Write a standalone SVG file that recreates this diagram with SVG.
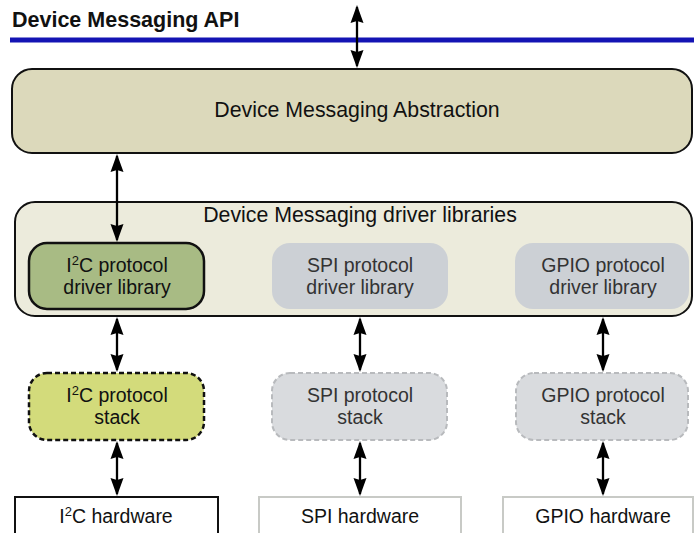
<svg xmlns="http://www.w3.org/2000/svg" width="694" height="533" viewBox="0 0 694 533">
  <defs>
    <marker id="ah" viewBox="0 0 18 14" refX="16" refY="7" markerWidth="18" markerHeight="14" orient="auto-start-reverse" markerUnits="userSpaceOnUse">
      <path d="M0,0.5 L18,7 L0,13.5 L2,7 z" fill="#000"/>
    </marker>
    <style>
      text { font-family: "Liberation Sans", Arial, sans-serif; fill: #111; }
      .title { font-size: 21.5px; font-weight: bold; }
      .lbl { font-size: 19.5px; text-anchor: middle; }
      .big { font-size: 21.3px; text-anchor: middle; }
      .grey { fill: #333; }
      .conn { stroke: #000; stroke-width: 2.3; fill: none; marker-start: url(#ah); marker-end: url(#ah); }
      .active-lib { fill: #a8bb84; stroke: #111; stroke-width: 2.5; }
      .idle-lib { fill: #ccd0d5; stroke: none; }
      .active-stack { fill: #d3db7b; stroke: #111; stroke-width: 2.5; stroke-dasharray: 5 3; }
      .idle-stack { fill: #d9dbde; stroke: #b8babd; stroke-width: 2; stroke-dasharray: 5 3; }
      .active-hw { fill: #fff; stroke: #111; stroke-width: 2; }
      .idle-hw { fill: #fff; stroke: #c8cac6; stroke-width: 2; }
    </style>
  </defs>

  <!-- API boundary -->
  <g id="api">
    <text class="title" x="12" y="27">Device Messaging API</text>
    <line x1="10" y1="40" x2="694" y2="40" stroke="#1414b4" stroke-width="5"/>
  </g>

  <g id="abstraction">
    <rect x="12" y="69" width="680" height="84" rx="20" fill="#dcd9bb" stroke="#111" stroke-width="2"/>
    <text class="big" x="357" y="117">Device Messaging Abstraction</text>
  </g>

  <g id="driver-libraries">
    <rect x="15" y="202" width="677" height="114" rx="20" fill="#ecebdc" stroke="#111" stroke-width="2"/>
    <text class="big" x="360" y="222">Device Messaging driver libraries</text>
  </g>

  <g id="i2c-lib">
    <rect class="active-lib" x="29" y="243" width="175" height="66" rx="18"/>
    <text class="lbl" x="117" y="272">I<tspan dy="-7" font-size="13">2</tspan><tspan dy="7">C protocol</tspan></text>
    <text class="lbl" x="117" y="294">driver library</text>
  </g>
  <g id="spi-lib">
    <rect class="idle-lib" x="272" y="243" width="176" height="66" rx="18"/>
    <text class="lbl grey" x="360" y="272">SPI protocol</text>
    <text class="lbl grey" x="360" y="294">driver library</text>
  </g>
  <g id="gpio-lib">
    <rect class="idle-lib" x="515" y="243" width="174" height="66" rx="18"/>
    <text class="lbl grey" x="603" y="272">GPIO protocol</text>
    <text class="lbl grey" x="603" y="294">driver library</text>
  </g>

  <g id="i2c-stack">
    <rect class="active-stack" x="29" y="373" width="175" height="67" rx="18"/>
    <text class="lbl" x="117" y="402">I<tspan dy="-7" font-size="13">2</tspan><tspan dy="7">C protocol</tspan></text>
    <text class="lbl" x="117" y="424">stack</text>
  </g>
  <g id="spi-stack">
    <rect class="idle-stack" x="272" y="373" width="175" height="67" rx="18"/>
    <text class="lbl grey" x="360" y="402">SPI protocol</text>
    <text class="lbl grey" x="360" y="424">stack</text>
  </g>
  <g id="gpio-stack">
    <rect class="idle-stack" x="516" y="373" width="172" height="67" rx="18"/>
    <text class="lbl grey" x="603" y="402">GPIO protocol</text>
    <text class="lbl grey" x="603" y="424">stack</text>
  </g>

  <g id="i2c-hw">
    <rect class="active-hw" x="15" y="497" width="203" height="40"/>
    <text class="lbl" x="116" y="523">I<tspan dy="-7" font-size="13">2</tspan><tspan dy="7">C hardware</tspan></text>
  </g>
  <g id="spi-hw">
    <rect class="idle-hw" x="259" y="497" width="202" height="40"/>
    <text class="lbl" x="360" y="523">SPI hardware</text>
  </g>
  <g id="gpio-hw">
    <rect class="idle-hw" x="503" y="497" width="190" height="40"/>
    <text class="lbl" x="603" y="523">GPIO hardware</text>
  </g>

  <!-- bidirectional links -->
  <g id="connectors">
    <line class="conn" x1="357" y1="7" x2="357" y2="66"/>
    <line class="conn" x1="117" y1="156" x2="117" y2="240"/>
    <line class="conn" x1="117" y1="319" x2="117" y2="370"/>
    <line class="conn" x1="360" y1="319" x2="360" y2="370"/>
    <line class="conn" x1="603" y1="319" x2="603" y2="370"/>
    <line class="conn" x1="117" y1="443" x2="117" y2="494"/>
    <line class="conn" x1="360" y1="443" x2="360" y2="494"/>
    <line class="conn" x1="603" y1="443" x2="603" y2="494"/>
  </g>
</svg>
